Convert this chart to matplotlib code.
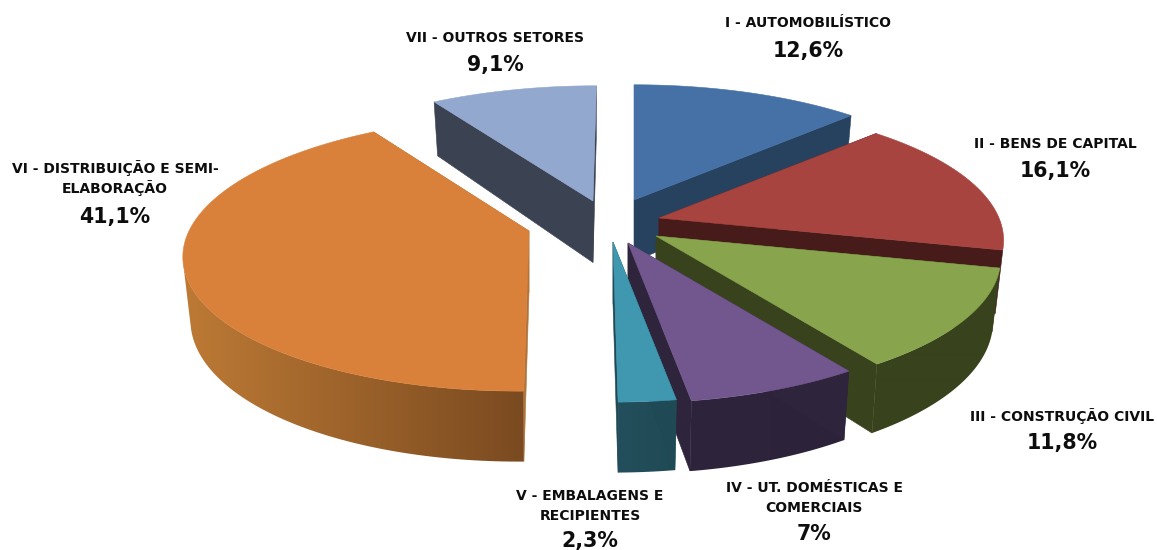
import numpy as np
import matplotlib
matplotlib.use("Agg")
import matplotlib.pyplot as plt
from matplotlib.patches import Polygon
from matplotlib.colors import to_rgb

# ---- data ----
names = ["I - AUTOMOBILÍSTICO", "II - BENS DE CAPITAL", "III - CONSTRUÇÃO CIVIL",
         "IV - UT. DOMÉSTICAS E\nCOMERCIAIS", "V - EMBALAGENS E\nRECIPIENTES",
         "VI - DISTRIBUIÇÃO E SEMI-\nELABORAÇÃO", "VII - OUTROS SETORES"]
values = [12.6, 16.1, 11.8, 7.0, 2.3, 41.1, 9.1]
pct_labels = ["12,6%", "16,1%", "11,8%", "7%", "2,3%", "41,1%", "9,1%"]

# ---- style / layout ----
top_cols = ["#4571a6", "#a84440", "#88a44d", "#72578e", "#4097b0", "#d9813b", "#93a8cf"]
wall_left = ["#27425f", "#471b19", "#38431d", "#2e243c", "#234f5c", "#bd7a35", "#3b4252"]
wall_right = ["#27425f", "#471b19", "#38431d", "#2c2239", "#1f4a55", "#7a4a20", "#3b4252"]
cut_cols = ["#27425f", "#471b19", "#38431d", "#2e243c", "#1f4a55", "#b0743a", "#3b4252"]
centre = (617.0, 225.0)
explode_dx = [17, 42, 39, 11, -4, -88, -24]
explode_dy = [-25, -7, 11, 18, 17, 6, -24]
explode_persp = [0, 0, 0, 0, 0, 0.6, 1.0]
A, B, K = 340.0, 134.0, 0.163          # ellipse axes and perspective
DEPTH0, DEPTH1, SHRINK = 61.5, 9.0, 0.978
draw_order = [6, 0, 5, 1, 2, 3, 4]
label_pos = [(808, 22, 50), (1055, 143, 170), (1062, 416, 442), (814, 487, 533),
             (590, 495, 539), (115, 168, 215), (495, 37, 64)]
LABEL_FS, PCT_FS = 10.0, 14.8
FONT = "DejaVu Sans"


def project(theta, i, down=False):
    u, v = np.sin(theta), np.cos(theta)
    s = 1.0 / (1.0 + K * v)
    x0 = centre[0] + explode_dx[i]
    y0 = centre[1] + explode_dy[i]
    x, y = A * u * s, -B * v * s
    shift = explode_dx[i] * explode_persp[i] * (s - 1.0)
    if down:
        return x0 + SHRINK * (x + shift), y0 + y + (DEPTH0 - DEPTH1 * v)
    return x0 + x + shift, y0 + y


fig = plt.figure(figsize=(11.57, 5.5), dpi=100)
ax = fig.add_axes([0, 0, 1, 1])
ax.set_xlim(0, 1157)
ax.set_ylim(550, 0)
ax.axis("off")

edges = np.cumsum([0.0] + values) / sum(values) * 2 * np.pi

for i in draw_order:
    z = 2 + draw_order.index(i) * 3
    x0 = centre[0] + explode_dx[i]
    y0 = centre[1] + explode_dy[i]
    th = np.linspace(edges[i], edges[i + 1], 300)
    xt, yt = project(th, i)
    xb, yb = project(th, i, down=True)
    # keep only the part of the curved wall that faces the viewer
    cross = np.diff(xt) * (yb - yt)[:-1] - np.diff(yt) * (xb - xt)[:-1]
    front = np.where(cross < 0)[0]
    if len(front) > 1:
        a, b = front[0], front[-1] + 2
        pts = np.r_[np.c_[xt[a:b], yt[a:b]], np.c_[xb[a:b], yb[a:b]][::-1]]
        xmin, xmax = pts[:, 0].min(), pts[:, 0].max()
        cl, cr = np.array(to_rgb(wall_left[i])), np.array(to_rgb(wall_right[i]))
        grad = np.linspace(0, 1, 256)[None, :, None] * (cr - cl) + cl
        im = ax.imshow(grad, extent=(xmin, xmax, pts[:, 1].max(), pts[:, 1].min()),
                       aspect="auto", interpolation="bilinear", zorder=z)
        patch = Polygon(pts, closed=True, transform=ax.transData, fc="none", ec="none")
        ax.add_patch(patch)
        im.set_clip_path(patch)
    # radial cut walls
    for j in (0, -1):
        ax.fill([x0, xt[j], xb[j], x0], [y0, yt[j], yb[j], y0 + DEPTH0],
                color=cut_cols[i], lw=0.4, zorder=z + 0.5)
    # top face
    ax.fill(np.r_[x0, xt], np.r_[y0, yt], color=top_cols[i], lw=0.4, zorder=z + 1)

ax.set_xlim(0, 1157)
ax.set_ylim(550, 0)

for n, p, (lx, ly, py) in zip(names, pct_labels, label_pos):
    for q, line in enumerate(n.split("\n")):
        ax.text(lx, ly + q * 20 + 5, line, ha="center", va="baseline", fontsize=LABEL_FS,
                fontweight="bold", family=FONT, color="#0d0d0d", zorder=50)
    ax.text(lx, py + 7.5, p, ha="center", va="baseline", fontsize=PCT_FS, fontweight="bold",
            family=FONT, color="#0d0d0d", zorder=50)

fig.savefig("out.png", dpi=100, facecolor="white")
